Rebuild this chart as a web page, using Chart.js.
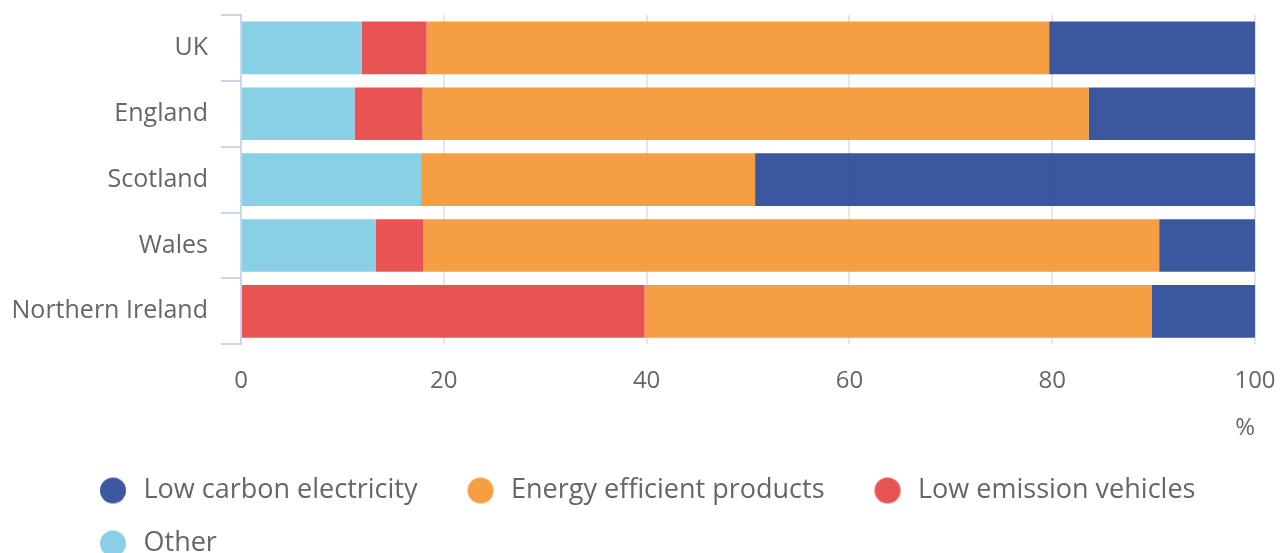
<!DOCTYPE html>
<html>
<head>
<meta charset="utf-8">
<script src="https://cdn.jsdelivr.net/npm/chart.js@4"></script>
<style>
  html, body { margin: 0; padding: 0; background: #ffffff; }
  #wrap { width: 1280px; height: 553px; position: relative; }
</style>
</head>
<body>
<div id="wrap"><canvas id="c"></canvas></div>
<script>
const categories = ["UK", "England", "Scotland", "Wales", "Northern Ireland"];
const otherValues = [11.9, 11.2, 17.75, 13.3, 0];
const lowEmissionVehicles = [6.4, 6.7, 0, 4.65, 39.8];
const energyEfficientProducts = [61.4, 65.7, 32.95, 72.6, 50.0];
const lowCarbonElectricity = [20.3, 16.4, 49.3, 9.45, 10.2];
const xTickValues = [0, 20, 40, 60, 80, 100];
const xAxisTitle = "%";

const seriesNames = ["Other", "Low emission vehicles", "Energy efficient products", "Low carbon electricity"];
const seriesColors = ["rgba(124,202,226,0.9)", "rgba(229,64,65,0.9)", "rgba(244,147,45,0.9)", "rgba(38,70,149,0.9)"];
const legendColors = ["#89cfe5", "#e85354", "#f59e42", "#3c58a0"];

const FONT = "'Open Sans', sans-serif";
const TEXT = "#666666";

function makeDot(color) {
  const cv = document.createElement('canvas');
  cv.width = 54; cv.height = 28;
  const g = cv.getContext('2d');
  g.fillStyle = color;
  g.beginPath();
  g.arc(37, 14, 13, 0, Math.PI * 2);
  g.fill();
  return cv;
}
const dots = legendColors.map(makeDot);

const allSeries = [otherValues, lowEmissionVehicles, energyEfficientProducts, lowCarbonElectricity];

const LEGEND_TOP = 451;
const LEGEND_X = 76;

const legendAlignPlugin = {
  id: 'legendAlign',
  beforeLayout(chart) {
    const lg = chart.legend;
    if (lg && !lg._patched) {
      const orig = lg.fit.bind(lg);
      lg.fit = function() { orig(); this.height = chart.height - LEGEND_TOP; };
      lg._patched = true;
    }
  },
  afterUpdate(chart) {
    const lg = chart.legend;
    if (!lg || !lg.lineWidths) return;
    const pad = lg.options.labels.padding;
    const lw = lg.left + pad + lg.right - 2 * LEGEND_X;
    lg.lineWidths = lg.lineWidths.map(() => lw);
    if (lg.adjustHitBoxes) lg.adjustHitBoxes();
  }
};

new Chart(document.getElementById('c'), {
  type: 'bar',
  data: {
    labels: categories,
    datasets: allSeries.map((vals, i) => ({
      label: seriesNames[i],
      data: vals,
      backgroundColor: seriesColors[i],
      borderWidth: 0,
      barPercentage: 0.8,
      categoryPercentage: 1.0
    }))
  },
  options: {
    indexAxis: 'y',
    responsive: true,
    maintainAspectRatio: false,
    animation: false,
    layout: { padding: { top: 15, left: 12, right: 0, bottom: 0 } },
    scales: {
      x: {
        stacked: true,
        min: 0,
        max: 100,
        afterBuildTicks(axis) { axis.ticks = xTickValues.map(v => ({ value: v })); },
        afterFit(scale) { scale.paddingLeft = 0; scale.paddingRight = 25; },
        grid: { color: '#e6e6e6', lineWidth: 2, drawTicks: false },
        border: { display: false },
        ticks: { color: TEXT, font: { family: FONT, size: 24 }, padding: 23 },
        title: {
          display: true, text: xAxisTitle, align: 'end', color: TEXT,
          font: { family: FONT, size: 24, lineHeight: 1.04 }, padding: { top: -3, bottom: 10 }
        }
      },
      y: {
        stacked: true,
        afterFit(scale) { scale.width = 229; scale.paddingTop = 0; scale.paddingBottom = 0; },
        grid: { offset: true, drawOnChartArea: false, color: '#ccd6eb', lineWidth: 2, tickLength: 20 },
        border: { display: true, color: '#ccd6eb', width: 2 },
        ticks: { color: TEXT, font: { family: FONT, size: 25 }, padding: 13 }
      }
    },
    plugins: {
      tooltip: { enabled: false },
      legend: {
        position: 'bottom',
        align: 'center',
        reverse: true,
        labels: {
          usePointStyle: true,
          pointStyleWidth: 54,
          boxHeight: 27,
          padding: 26,
          color: TEXT,
          font: { family: FONT, size: 27 },
          generateLabels(chart) {
            const items = Chart.defaults.plugins.legend.labels.generateLabels(chart);
            items.forEach(it => { it.pointStyle = dots[it.datasetIndex]; it.fillStyle = legendColors[it.datasetIndex]; it.lineWidth = 0; it.strokeStyle = 'rgba(0,0,0,0)'; });
            return items;
          }
        }
      }
    }
  },
  plugins: [legendAlignPlugin]
});
</script>
</body>
</html>
